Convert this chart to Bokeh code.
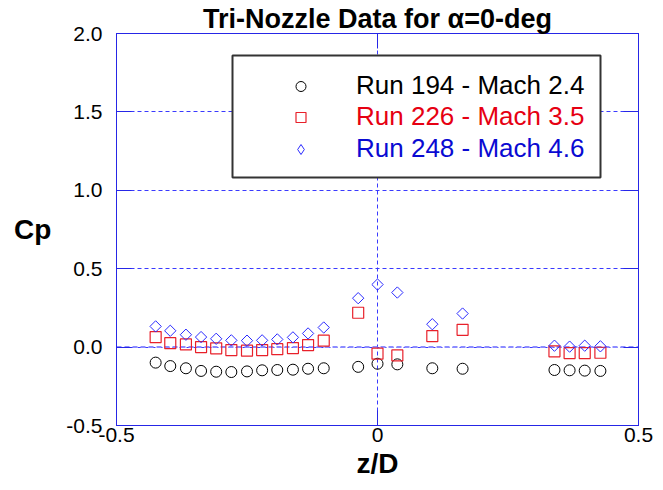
import math
from bokeh.plotting import figure
from bokeh.models import (Range1d, LinearAxis, FixedTicker, PrintfTickFormatter,
                          CustomJSTickFormatter, Legend, LegendItem, BoxAnnotation, Span, Title,
                          ColumnDataSource)
from bokeh.embed import file_html
from bokeh.resources import INLINE

# ---- data ----
z_over_d = [-0.425, -0.397, -0.367, -0.338, -0.309, -0.280, -0.250, -0.221, -0.192, -0.162,
            -0.133, -0.103, -0.037, 0.0, 0.038, 0.105, 0.163, 0.339, 0.368, 0.397, 0.427]
cp_run194 = [-0.099, -0.121, -0.135, -0.152, -0.157, -0.159, -0.155, -0.148, -0.146, -0.144,
             -0.138, -0.135, -0.126, -0.106, -0.110, -0.135, -0.138, -0.146, -0.148, -0.150, -0.152]
cp_run226 = [0.064, 0.025, 0.017, 0.000, -0.008, -0.019, -0.023, -0.019, -0.013, -0.006,
             0.013, 0.041, 0.219, -0.042, -0.053, 0.070, 0.110, -0.027, -0.038, -0.038, -0.036]
cp_run248 = [0.132, 0.104, 0.079, 0.064, 0.053, 0.043, 0.041, 0.043, 0.049, 0.062,
             0.087, 0.125, 0.312, 0.399, 0.348, 0.146, 0.214, 0.009, 0.003, 0.009, 0.005]
series_labels = ["Run 194 - Mach 2.4", "Run 226 - Mach 3.5", "Run 248 - Mach 4.6"]
x_ticks = [-0.5, 0.0, 0.5]
y_ticks = [-0.5, 0.0, 0.5, 1.0, 1.5, 2.0]
title_text = "Tri-Nozzle Data for \u03b1=0-deg"
x_label = "z/D"
y_label = "Cp"

FONT = "Liberation Sans"
BLUE_AX = "#2626e6"
GRID = "#3a3aff"

p = figure(width=658, height=481, output_backend="svg", toolbar_location=None,
           x_range=Range1d(-0.5, 0.5), y_range=Range1d(-0.5, 2.0),
           min_border_left=116, min_border_right=20, min_border_top=33, min_border_bottom=50)
p.background_fill_color = "white"
p.border_fill_color = "white"
p.outline_line_color = BLUE_AX
p.outline_line_width = 1

p.title = Title(text=title_text, align="center", text_font=FONT, text_font_size="27px",
                text_font_style="bold", text_color="black", standoff=0, offset=0)

# axes
for ax in (p.xaxis[0], p.yaxis[0]):
    ax.axis_line_color = BLUE_AX
    ax.major_tick_line_color = BLUE_AX
    ax.major_tick_in = 15
    ax.major_tick_out = 0
    ax.minor_tick_line_color = None
    ax.major_label_text_font = FONT
    ax.major_label_text_font_size = "21px"
    ax.major_label_text_color = "black"
    ax.axis_label_text_font = FONT
    ax.axis_label_text_font_size = "28px"
    ax.axis_label_text_font_style = "bold"
    ax.axis_label_text_color = "black"

p.xaxis.ticker = FixedTicker(ticks=x_ticks)
p.xaxis.formatter = CustomJSTickFormatter(code="return tick.toString()")
p.xaxis.axis_label = x_label
p.xaxis.major_label_standoff = 2
p.xaxis.axis_label_standoff = 3

p.yaxis.ticker = FixedTicker(ticks=y_ticks)
p.yaxis.formatter = PrintfTickFormatter(format="%.1f")
p.yaxis.axis_label = y_label
p.yaxis.axis_label_orientation = "horizontal"
p.yaxis.major_label_standoff = 14
p.yaxis.axis_label_standoff = 12

for side, tk in (("above", x_ticks), ("right", y_ticks)):
    a = LinearAxis(ticker=FixedTicker(ticks=tk),
                   formatter=CustomJSTickFormatter(code="return ''"),
                   axis_line_color=BLUE_AX, major_tick_line_color=BLUE_AX,
                   major_tick_in=15, major_tick_out=0, minor_tick_line_color=None,
                   major_label_standoff=0, major_label_text_font_size="1px")
    p.add_layout(a, side)

# grid
p.xgrid.ticker = FixedTicker(ticks=x_ticks)
p.ygrid.ticker = FixedTicker(ticks=y_ticks)
for g in (p.xgrid[0], p.ygrid[0]):
    g.grid_line_color = GRID
    g.grid_line_dash = "4 3"
    g.grid_line_width = 1

zero_line = Span(location=0, dimension="width", line_color="#8c8cff", line_width=2,
                 line_dash="5 3", level="underlay")
p.add_layout(zero_line)

# data
r1 = p.scatter(z_over_d, cp_run194, marker="circle", size=11, fill_color=None,
               line_color="black", line_width=1)
r2 = p.scatter(z_over_d, cp_run226, marker="square", size=11, fill_color=None,
               line_color="#e8202a", line_width=1.2)
src248 = ColumnDataSource(data=dict(x=z_over_d, y=cp_run248))
r3 = p.scatter("x", "y", source=src248, marker="square", angle=math.pi / 4, size=8,
               fill_color=None, line_color="#2a2aff", line_width=1)
# legend-only diamond symbol: zero size on the plot (legend sizes its own symbol)
r3_key = p.scatter("x", "y", source=src248, marker="diamond", size=0, fill_color=None,
                   line_color="#2a2aff", line_width=1)

# legend box
box = BoxAnnotation(left=116, right=484, bottom=248, top=370,
                    left_units="screen", right_units="screen",
                    bottom_units="screen", top_units="screen",
                    fill_color="white", fill_alpha=1, line_color="#333333",
                    line_alpha=1, line_width=2)
p.add_layout(box)

text_colors = ["black", "#e60012", "#0a0ad2"]
row_bottoms = [324, 293, 261]
for r, lab, col, yb in zip((r1, r2, r3_key), series_labels, text_colors, row_bottoms):
    lg = Legend(items=[LegendItem(label=lab, renderers=[r])], location=(172, yb),
                padding=0, margin=0, spacing=0, glyph_width=25, glyph_height=30,
                label_height=30, label_standoff=43, border_line_alpha=0,
                background_fill_alpha=0, label_text_font=FONT,
                label_text_font_size="26px", label_text_color=col)
    p.add_layout(lg)

open("out.html", "w").write(file_html(p, INLINE))
